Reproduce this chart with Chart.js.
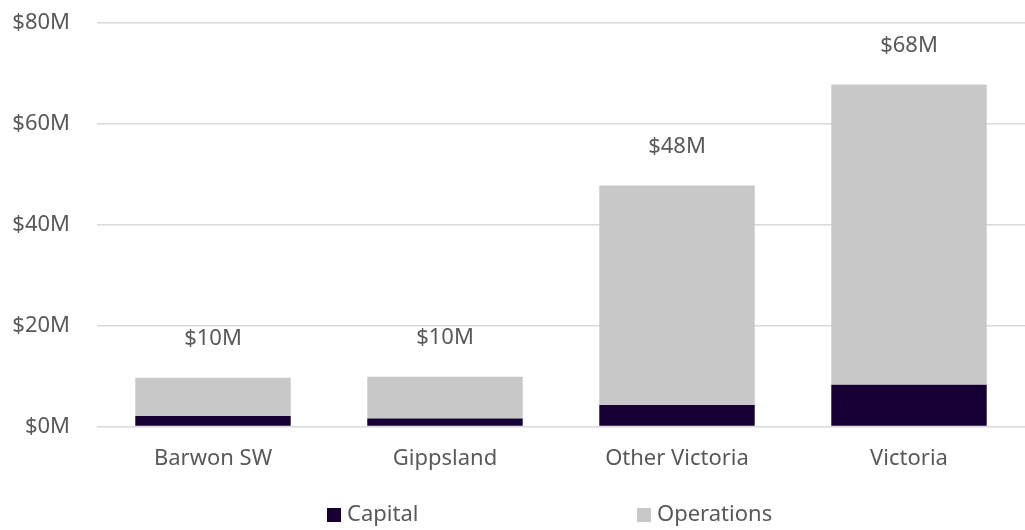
<!DOCTYPE html>
<html>
<head>
<meta charset="utf-8">
<script src="https://cdn.jsdelivr.net/npm/chart.js@4.4.1/dist/chart.umd.min.js"></script>
<style>
  html, body { margin: 0; padding: 0; background: #fff; }
  #wrap { width: 1025px; height: 530px; position: relative; }
</style>
</head>
<body>
<div id="wrap"><canvas id="budgetChart"></canvas></div>
<script>
const regions = ['Barwon SW', 'Gippsland', 'Other Victoria', 'Victoria'];
const capital = [2.1, 1.6, 4.3, 8.3];
const operations = [7.6, 8.3, 43.5, 59.5];
const totalLabels = ['$10M', '$10M', '$48M', '$68M'];
const yTicks = [0, 20, 40, 60, 80];

const FONT = '"Noto Sans", sans-serif';
const TEXT = '#595959';

// total above each stack
const totalsPlugin = {
    id: 'totals',
    afterDatasetsDraw(chart) {
        const ctx = chart.ctx;
        const meta = chart.getDatasetMeta(1);
        ctx.save();
        ctx.font = '22px ' + FONT;
        ctx.fillStyle = TEXT;
        ctx.textAlign = 'center';
        ctx.textBaseline = 'middle';
        meta.data.forEach((bar, i) => {
            ctx.fillText(totalLabels[i], bar.x, bar.y - 39);
        });
        ctx.restore();
    }
};

// spread-out legend like the original
const legendPlugin = {
    id: 'wideLegend',
    afterDraw(chart) {
        const ctx = chart.ctx;
        const y = 515;
        const items = [
            { text: 'Capital', color: '#160033', x: 327 },
            { text: 'Operations', color: '#c8c8c8', x: 637 }
        ];
        ctx.save();
        ctx.font = '22px ' + FONT;
        ctx.textBaseline = 'middle';
        items.forEach(it => {
            ctx.fillStyle = it.color;
            ctx.fillRect(it.x, y - 7, 14, 14);
            ctx.fillStyle = TEXT;
            ctx.textAlign = 'left';
            ctx.fillText(it.text, it.x + 20, y);
        });
        ctx.restore();
    }
};

new Chart(document.getElementById('budgetChart'), {
    type: 'bar',
    data: {
        labels: regions,
        datasets: [
            { label: 'Capital', data: capital, backgroundColor: '#160033', borderWidth: 0, categoryPercentage: 0.67, barPercentage: 1 },
            { label: 'Operations', data: operations, backgroundColor: '#c8c8c8', borderWidth: 0, categoryPercentage: 0.67, barPercentage: 1 }
        ]
    },
    options: {
        responsive: true,
        maintainAspectRatio: false,
        animation: false,
        layout: { padding: { top: 23, right: 0, bottom: 47, left: 0 } },
        plugins: {
            legend: { display: false },
            tooltip: { enabled: false }
        },
        scales: {
            x: {
                stacked: true,
                grid: { display: false },
                border: { display: false },
                ticks: { color: TEXT, font: { family: FONT, size: 22 }, padding: 11 }
            },
            y: {
                stacked: true,
                min: 0,
                max: 80,
                afterFit(scale) {
                    scale.width = 97;
                    scale.paddingTop = 0;
                    scale.paddingBottom = 0;
                },
                afterBuildTicks(scale) { scale.ticks = yTicks.map(v => ({ value: v })); },
                grid: { color: '#d9d9d9', lineWidth: 1.5, drawTicks: false },
                border: { display: false },
                ticks: {
                    color: TEXT,
                    font: { family: FONT, size: 22 },
                    padding: 27,
                    callback: v => '$' + v + 'M'
                }
            }
        }
    },
    plugins: [totalsPlugin, legendPlugin]
});
</script>
</body>
</html>
